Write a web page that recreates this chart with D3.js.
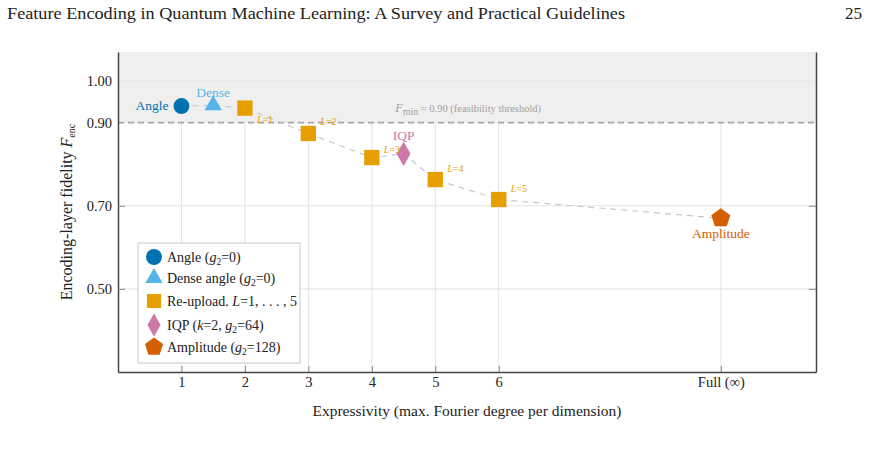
<!DOCTYPE html>
<html>
<head>
<meta charset="utf-8">
<script src="https://cdn.jsdelivr.net/npm/d3@7"></script>
<style>
  body { margin: 0; background: #fff; }
  text { font-family: "Liberation Serif", "DejaVu Serif", serif; }
</style>
</head>
<body>
<script>
// size variables
var width = 869, height = 452;
var margin = {left: 118, right: 53, top: 52, bottom: 80};

// data
const xTickVals = [1, 2, 3, 4, 5, 6, 9.5];
const xTickLabels = ["1", "2", "3", "4", "5", "6", "Full (\u221e)"];
const yTickVals = [0.5, 0.7, 0.9, 1.0];
const fMin = 0.90;

const angleX = [1], angleF = [0.94];
const denseX = [1.5], denseF = [0.942];
const reuploadL = [1, 2, 3, 4, 5];
const reuploadX = [2, 3, 4, 5, 6];
const reuploadF = [0.935, 0.874, 0.816, 0.763, 0.715];
const iqpX = [4.5], iqpF = [0.825];
const ampX = [9.5], ampF = [0.67];

// colours
const cAngle = "#0072B2", cDense = "#56B4E9", cRe = "#E69F00", cIqp = "#CC79A7", cAmp = "#D55E00";

var svg = d3.select('body').append('svg').attr('width', width).attr('height', height);

// header line of the page
svg.append("text").attr("x", 7).attr("y", 19).attr("font-size", "17px").attr("fill", "#222")
  .attr("textLength", 618).attr("lengthAdjust", "spacingAndGlyphs")
  .text("Feature Encoding in Quantum Machine Learning: A Survey and Practical Guidelines");
svg.append("text").attr("x", 862).attr("y", 19).attr("font-size", "17px").attr("fill", "#222")
  .attr("text-anchor", "end").text("25");

var x = d3.scaleLinear().domain([0, 11]).range([margin.left, width - margin.right]);
var y = d3.scaleLinear().domain([0.3, 1.07]).range([height - margin.bottom, margin.top]);
var x0 = x.range()[0], x1 = x.range()[1], y0 = y.range()[0], y1 = y.range()[1];

// grid
svg.append("g").selectAll("line").data(xTickVals).join("line")
  .attr("x1", d => x(d)).attr("x2", d => x(d)).attr("y1", y0).attr("y2", y1)
  .attr("stroke", "#e3e3e3").attr("stroke-width", 1);
svg.append("g").selectAll("line").data(yTickVals).join("line")
  .attr("x1", x0).attr("x2", x1).attr("y1", d => y(d)).attr("y2", d => y(d))
  .attr("stroke", "#e3e3e3").attr("stroke-width", 1);

// infeasible region shading
svg.append("rect").attr("x", x0).attr("y", y1).attr("width", x1 - x0).attr("height", y(fMin) - y1)
  .attr("fill", "#efefef");
svg.append("line").attr("x1", x0).attr("x2", x1).attr("y1", y(1.0)).attr("y2", y(1.0))
  .attr("stroke", "#e6e6e6");

// threshold
svg.append("line").attr("x1", x0).attr("x2", x1).attr("y1", y(fMin)).attr("y2", y(fMin))
  .attr("stroke", "#a8a8a8").attr("stroke-width", 1.6).attr("stroke-dasharray", "6,4");
var th = svg.append("text").attr("x", x(4.37)).attr("y", y(fMin) - 11).attr("font-size", "10.5px").attr("fill", "#a0a0a0");
th.append("tspan").attr("font-style", "italic").attr("font-size", "12px").text("F");
th.append("tspan").attr("dy", 3).attr("font-size", "10px").text("min");
th.append("tspan").attr("dy", -3).text(" = 0.90 (feasibility threshold)");

// axes
var xAxis = d3.axisBottom(x).tickValues(xTickVals).tickFormat((d, i) => xTickLabels[i]).tickSizeInner(-6).tickSizeOuter(0).tickPadding(5);
var gx = svg.append("g").attr("transform", `translate(0,${y0})`).call(xAxis);
var yAxis = d3.axisLeft(y).tickValues(yTickVals).tickFormat(d3.format(".2f")).tickSizeInner(-7).tickSizeOuter(0).tickPadding(6);
var gy = svg.append("g").attr("transform", `translate(${x0},0)`).call(yAxis);
var yAxisR = d3.axisRight(y).tickValues(yTickVals).tickFormat("").tickSizeInner(-7).tickSizeOuter(0);
var gyr = svg.append("g").attr("transform", `translate(${x1},0)`).call(yAxisR);
[gx, gy, gyr].forEach(g => {
  g.select(".domain").attr("stroke", "#444").attr("stroke-width", 1.5);
  g.selectAll(".tick line").attr("stroke", "#888");
  g.selectAll(".tick text").attr("font-family", "Liberation Serif, serif").attr("font-size", "14.5px").attr("fill", "#222");
});
gy.selectAll(".tick").filter(d => d >= 0.9).select("line").remove();
gyr.selectAll(".tick").filter(d => d >= 0.9).select("line").remove();

// axis titles
svg.append("text").attr("x", (x0 + x1) / 2).attr("y", 416).attr("text-anchor", "middle")
  .attr("font-size", "15.5px").attr("fill", "#222").text("Expressivity (max. Fourier degree per dimension)");
var yl = svg.append("text").attr("transform", `translate(72,${(y0 + y1) / 2}) rotate(-90)`)
  .attr("text-anchor", "middle").attr("font-size", "16px").attr("fill", "#222");
yl.append("tspan").text("Encoding-layer fidelity ");
yl.append("tspan").attr("font-style", "italic").text("F");
yl.append("tspan").attr("font-size", "10px").attr("dy", 3).text("enc");

// connecting dashed line in order of expressivity
var allPts = [];
angleX.forEach((d, i) => allPts.push([d, angleF[i]]));
denseX.forEach((d, i) => allPts.push([d, denseF[i]]));
reuploadX.forEach((d, i) => allPts.push([d, reuploadF[i]]));
iqpX.forEach((d, i) => allPts.push([d, iqpF[i]]));
ampX.forEach((d, i) => allPts.push([d, ampF[i]]));
allPts.sort((a, b) => a[0] - b[0]);
svg.append("path").datum(allPts)
  .attr("d", d3.line().x(d => x(d[0])).y(d => y(d[1])))
  .attr("fill", "none").attr("stroke", "#c8c8c8").attr("stroke-width", 1.2).attr("stroke-dasharray", "6,5");

// pentagon path
function pentagon(r) {
  var pts = d3.range(5).map(k => {
    var a = -Math.PI / 2 + k * 2 * Math.PI / 5;
    return [r * Math.cos(a), r * Math.sin(a)];
  });
  return d3.line()(pts) + "Z";
}

function drawMarks(xs, fs, shape, col) {
  svg.append("g").selectAll("path").data(xs).join("path")
    .attr("transform", (d, i) => `translate(${x(d)},${y(fs[i])})`)
    .attr("d", shape).attr("fill", col);
}
drawMarks(reuploadX, reuploadF, d3.symbol(d3.symbolSquare, 235)(), cRe);
drawMarks(angleX, angleF, d3.symbol(d3.symbolCircle, 200)(), cAngle);
drawMarks(denseX, denseF, d3.symbol(d3.symbolTriangle, 130)(), cDense);
drawMarks(iqpX, iqpF, d3.symbol(d3.symbolDiamond, 170)(), cIqp);
drawMarks(ampX, ampF, pentagon(10), cAmp);

// point labels
svg.append("text").attr("x", x(angleX[0]) - 13).attr("y", y(angleF[0]) + 4).attr("text-anchor", "end")
  .attr("font-size", "13.5px").attr("fill", cAngle).text("Angle");
svg.append("text").attr("x", x(denseX[0])).attr("y", y(denseF[0]) - 8).attr("text-anchor", "middle")
  .attr("font-size", "13.5px").attr("fill", cDense).text("Dense");
svg.append("text").attr("x", x(iqpX[0])).attr("y", y(iqpF[0]) - 14).attr("text-anchor", "middle")
  .attr("font-size", "13.5px").attr("fill", cIqp).text("IQP");
svg.append("text").attr("x", x(ampX[0])).attr("y", y(ampF[0]) + 20).attr("text-anchor", "middle")
  .attr("font-size", "13.5px").attr("fill", cAmp).text("Amplitude");
svg.append("g").selectAll("text").data(reuploadL).join("text")
  .attr("x", (d, i) => x(reuploadX[i]) + 12)
  .attr("y", (d, i) => y(reuploadF[i]) - (i === 0 ? -15 : i === 2 ? 5 : 8))
  .attr("font-size", "10px").attr("fill", cRe)
  .each(function(d) {
    d3.select(this).append("tspan").attr("font-style", "italic").text("L");
    d3.select(this).append("tspan").text("=" + d);
  });

// legend
var lg = svg.append("g").attr("transform", "translate(138,243)");
lg.append("rect").attr("width", 162).attr("height", 120).attr("fill", "#fff").attr("stroke", "#c8c8c8");
const legendShapes = [
  d3.symbol(d3.symbolCircle, 200)(), d3.symbol(d3.symbolTriangle, 130)(),
  d3.symbol(d3.symbolSquare, 200)(), d3.symbol(d3.symbolDiamond, 150)(), pentagon(9.5)
];
const legendCols = [cAngle, cDense, cRe, cIqp, cAmp];
const legendYs = [14, 35, 58, 82, 104];
function gsub(t) {
  t.append("tspan").attr("font-style", "italic").text("g");
  t.append("tspan").attr("font-size", "9.5px").attr("dy", 3).text("2");
}
legendShapes.forEach((s, i) => {
  lg.append("path").attr("d", s).attr("fill", legendCols[i]).attr("transform", `translate(16,${legendYs[i]})`);
  var t = lg.append("text").attr("x", 29).attr("y", legendYs[i] + 5).attr("font-size", "14px").attr("fill", "#222");
  if (i === 0) { t.append("tspan").text("Angle ("); gsub(t); t.append("tspan").attr("dy", -3).text("=0)"); }
  if (i === 1) { t.append("tspan").text("Dense angle ("); gsub(t); t.append("tspan").attr("dy", -3).text("=0)"); }
  if (i === 2) {
    t.append("tspan").text("Re-upload. ");
    t.append("tspan").attr("font-style", "italic").text("L");
    t.append("tspan").text("=1, . . . , 5");
  }
  if (i === 3) {
    t.append("tspan").text("IQP (");
    t.append("tspan").attr("font-style", "italic").text("k");
    t.append("tspan").text("=2, "); gsub(t); t.append("tspan").attr("dy", -3).text("=64)");
  }
  if (i === 4) { t.append("tspan").text("Amplitude ("); gsub(t); t.append("tspan").attr("dy", -3).text("=128)"); }
});
</script>
</body>
</html>
